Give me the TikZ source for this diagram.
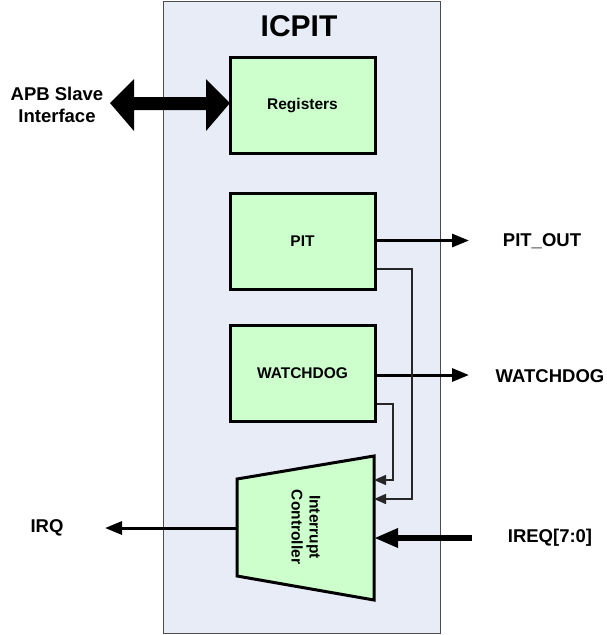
\documentclass[tikz,border=0pt]{standalone}
\usepackage{fontspec}
\setmainfont{Liberation Sans}
\usetikzlibrary{arrows.meta}
\definecolor{bgc}{HTML}{E8ECF6}
\definecolor{grn}{HTML}{CCFFCC}
\tikzset{
  blk/.style={draw=black,line width=3pt,fill=grn,minimum width=145pt,minimum height=96pt,inner sep=0pt,font=\bfseries\fontsize{15.5}{18}\selectfont},
  lbl/.style={font=\bfseries\fontsize{18.5}{22}\selectfont,align=center},
  sig/.style={line width=3pt,-{Triangle[length=17pt,width=13pt]}},
  thin/.style={line width=1.5pt,draw=black!85,-{Triangle[length=12pt,width=10pt]}},
  fat/.style={line width=6pt,-{Triangle[length=24pt,width=18pt]}}
}
\begin{document}
\begin{tikzpicture}[x=1pt,y=-1pt]
\useasboundingbox (0,0) rectangle (607,635);
\fill[white] (0,0) rectangle (607,635);
\node[draw=black!70,line width=1pt,fill=bgc,minimum width=277pt,minimum height=632pt,inner sep=0pt] (icpit) at (301.5,317) {};
\node[font=\bfseries\fontsize{30}{34}\selectfont] (title) at (299,26) {ICPIT};
\node[blk] (reg) at (302.5,105.5) {Registers};
\node[blk] (pit) at (302.5,241.5) {PIT};
\node[blk] (wd) at (302.5,373.5) {WATCHDOG};
% trapezoid
\coordinate (tl) at (237,479);
\coordinate (bl) at (237,576);
\coordinate (tr) at (374,456);
\coordinate (br) at (374,600);
\draw[line width=3pt,fill=grn,line join=miter] (tl) -- (tr) -- (br) -- (bl) -- cycle;
\node[rotate=-90,font=\bfseries\fontsize{15.5}{18}\selectfont,align=center,inner sep=0pt] (ic) at (306,527) {Interrupt\\Controller};
\coordinate (icA) at (374,480);
\coordinate (icB) at (374,499);
\coordinate (icIn) at (374,538);
\coordinate (icOut) at (237,528);
% APB double block arrow
\fill[black] (110,103) -- (134,79) -- (134,97) -- (206,97) -- (206,79) -- (230,103) -- (206,131) -- (206,110) -- (134,110) -- (134,131) -- cycle;
\node[lbl] (apb) at (57,105) {APB Slave\\Interface};
% outputs
\node[lbl] (pitout) at (542,241) {PIT\_OUT};
\node[lbl] (wdout) at (550,376) {WATCHDOG};
\node[lbl] (ireq) at (550,538) {IREQ[7:0]};
\node[lbl] (irq) at (47,528) {IRQ};
\coordinate (pitend) at (469,240.5);
\coordinate (wdend) at (469,375);
\coordinate (irqend) at (105,528);
\coordinate (ireqstart) at (472,538);
\draw[sig] (pit.east |- pitend) -- (pitend);
\draw[sig] (wd.east |- wdend) -- (wdend);
\draw[sig] (icOut) -- (irqend);
\draw[fat] (ireqstart) -- (icIn);
\draw[thin] (pit.east |- 0,269) -| (412,499) -- (icB);
\draw[thin] (wd.east |- 0,404) -| (393,480) -- (icA);
\end{tikzpicture}
\end{document}
